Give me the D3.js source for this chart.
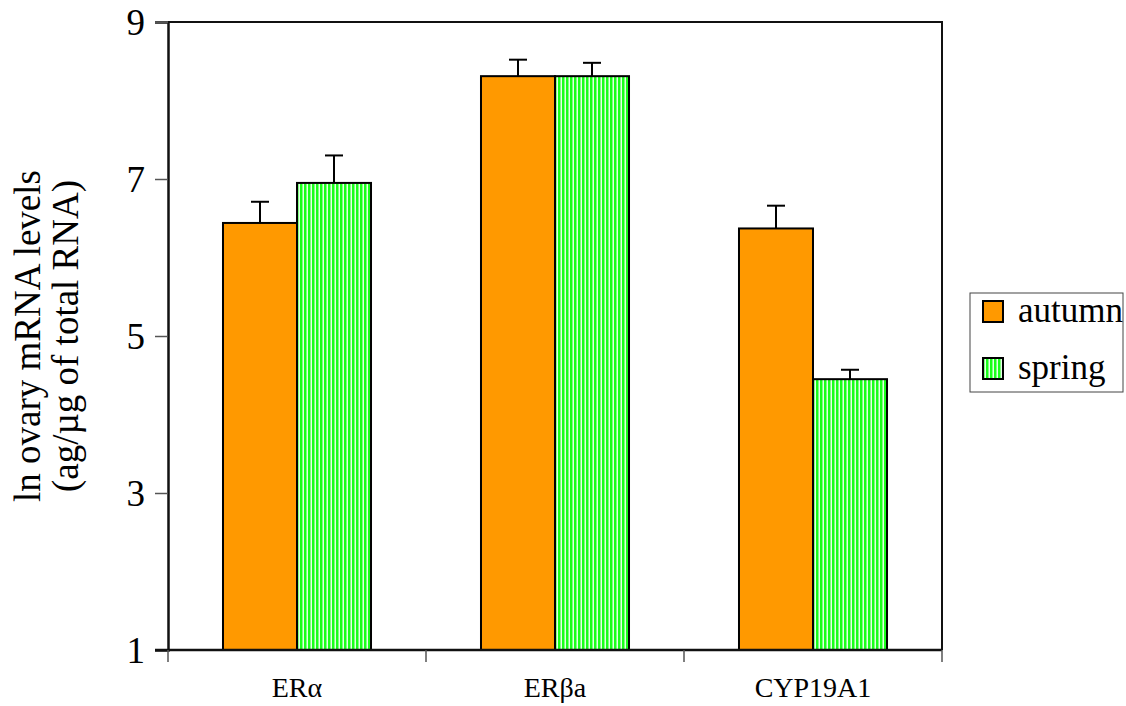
<!DOCTYPE html>
<html>
<head>
<meta charset="utf-8">
<script src="https://cdn.jsdelivr.net/npm/d3@7/dist/d3.min.js"></script>
<style>
  html, body { margin: 0; padding: 0; background: #fff; }
  svg text { font-family: "Liberation Serif", "Times New Roman", serif; }
</style>
</head>
<body>
<svg id="chart" width="1126" height="706"></svg>
<script>
// Ovarian mRNA levels (log scale) by gene and season, mean ± SE
const categories = ["ERα", "ERβa", "CYP19A1"];
const seriesNames = ["autumn", "spring"];
const autumnValues = [6.44, 8.31, 6.37];
const autumnErrors = [0.27, 0.21, 0.29];
const springValues = [6.95, 8.31, 4.45];
const springErrors = [0.35, 0.17, 0.12];
const yTicks = [1, 3, 5, 7, 9];

const SERIF = "Liberation Serif, Times New Roman, serif";
const svg = d3.select("#chart");
const margin = { left: 168, right: 184, top: 22, bottom: 56 };
const W = 1126, H = 706;
const plotL = margin.left, plotR = W - margin.right;
const plotT = margin.top, plotB = H - margin.bottom;

// striped fill for the spring bars
const defs = svg.append("defs");
const pat = defs.append("pattern")
  .attr("id", "stripes")
  .attr("patternUnits", "userSpaceOnUse")
  .attr("width", 4).attr("height", 4);
pat.append("rect").attr("width", 4).attr("height", 4).attr("fill", "#e6ffe6");
pat.append("rect").attr("width", 2.5).attr("height", 4).attr("fill", "#1aff1a");

const x0 = d3.scaleBand().domain(categories).range([plotL, plotR]).padding(0);
const x1 = d3.scaleBand().domain(seriesNames).range([0, x0.bandwidth()])
  .paddingInner(0).paddingOuter(0.743);
const y = d3.scaleLinear().domain([1, 9]).range([plotB, plotT]);

const rows = categories.map((c, i) => ({
  cat: c,
  bars: [
    { s: "autumn", v: autumnValues[i], e: autumnErrors[i] },
    { s: "spring", v: springValues[i], e: springErrors[i] }
  ]
}));
const fills = { autumn: "#ff9900", spring: "url(#stripes)" };

// plot frame (top and right)
svg.append("path")
  .attr("d", `M${plotL},${plotT}H${plotR}V${plotB}`)
  .attr("fill", "none").attr("stroke", "#111").attr("stroke-width", 2);

// error bars (drawn before bars so the stem starts at the bar top)
const groups = svg.append("g").selectAll("g").data(rows).join("g")
  .attr("transform", d => `translate(${x0(d.cat)},0)`);

groups.selectAll("g.err").data(d => d.bars).join("g").attr("class", "err")
  .each(function(d) {
    const g = d3.select(this);
    const cx = x1(d.s) + x1.bandwidth() / 2;
    g.append("line").attr("x1", cx).attr("x2", cx)
      .attr("y1", y(d.v)).attr("y2", y(d.v + d.e))
      .attr("stroke", "#000").attr("stroke-width", 2);
    g.append("line").attr("x1", cx - 9).attr("x2", cx + 9)
      .attr("y1", y(d.v + d.e)).attr("y2", y(d.v + d.e))
      .attr("stroke", "#000").attr("stroke-width", 2);
  });

groups.selectAll("rect").data(d => d.bars).join("rect")
  .attr("x", d => x1(d.s))
  .attr("y", d => y(d.v))
  .attr("width", x1.bandwidth())
  .attr("height", d => y(1) - y(d.v))
  .attr("fill", d => fills[d.s])
  .attr("stroke", "#000").attr("stroke-width", 2);

// y axis
const yAxis = svg.append("g").attr("transform", `translate(${plotL},0)`)
  .call(d3.axisLeft(y).tickValues(yTicks).tickSize(13).tickPadding(10).tickFormat(d3.format("d")))
  .attr("font-family", SERIF).attr("font-size", 37);
yAxis.select(".domain").attr("stroke", "#111").attr("stroke-width", 2.5);
yAxis.selectAll(".tick line").attr("stroke", "#555").attr("stroke-width", 1.5);
yAxis.selectAll(".tick text").attr("fill", "#000").attr("dy", "0.34em");

// x axis: ticks at the category boundaries, labels centred in each band
const xAxis = svg.append("g").attr("transform", `translate(0,${plotB})`);
xAxis.append("line").attr("x1", plotL - 13).attr("x2", plotR)
  .attr("stroke", "#111").attr("stroke-width", 2.5);
const bounds = categories.map(c => x0(c)).concat([plotR]);
xAxis.selectAll("line.tk").data(bounds).join("line").attr("class", "tk")
  .attr("x1", d => d).attr("x2", d => d).attr("y1", 0).attr("y2", 12)
  .attr("stroke", "#555").attr("stroke-width", 1.5);
xAxis.selectAll("text").data(categories).join("text")
  .attr("x", d => x0(d) + x0.bandwidth() / 2)
  .attr("y", 47)
  .attr("text-anchor", "middle")
  .attr("font-family", SERIF)
  .attr("font-size", 28)
  .text(d => d);

// y axis title
const title = svg.append("text")
  .attr("transform", `translate(0,${(plotT + plotB) / 2}) rotate(-90)`)
  .attr("text-anchor", "middle")
  .attr("font-family", SERIF)
  .attr("font-size", 37);
title.append("tspan").attr("x", 0).attr("y", 40).text("ln ovary mRNA levels");
title.append("tspan").attr("x", 0).attr("y", 78).text("(ag/µg of total RNA)");

// legend
const leg = svg.append("g").attr("transform", "translate(970,293)");
leg.append("rect").attr("width", 153).attr("height", 99)
  .attr("fill", "#fff").attr("stroke", "#444").attr("stroke-width", 1);
seriesNames.forEach((s, i) => {
  const gy = 8 + i * 57;
  leg.append("rect").attr("x", 13).attr("y", gy).attr("width", 20).attr("height", 21)
    .attr("fill", fills[s]).attr("stroke", "#000").attr("stroke-width", 2);
  leg.append("text").attr("x", 48).attr("y", gy + 21)
    .attr("font-family", SERIF)
    .attr("font-size", 35).text(s);
});
</script>
</body>
</html>
